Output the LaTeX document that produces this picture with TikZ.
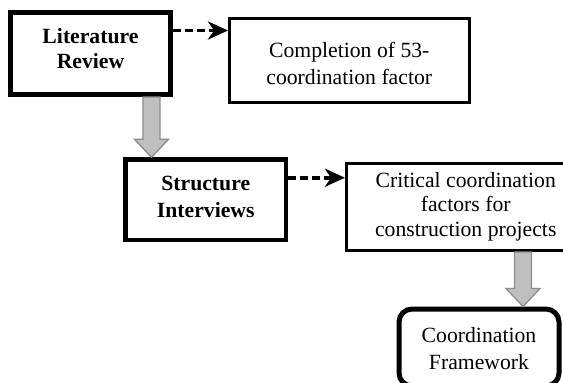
\documentclass[tikz,border=0pt]{standalone}
\usepackage{fontspec}
\setmainfont{Liberation Serif}
\usetikzlibrary{calc,arrows.meta}
\begin{document}
\begin{tikzpicture}[x=1pt,y=-1pt,
  box/.style={draw=black,rectangle,inner sep=0pt},
  thickbox/.style={box,line width=5pt},
  thinbox/.style={box,line width=3pt},
  lbl/.style={inner sep=0pt,align=center,font=\fontsize{21.7}{#1}\selectfont},
  lbl/.default=25.5pt,
  dasharrow/.style={line width=3.5pt,dash pattern=on 8pt off 4pt,-{Stealth[length=20pt,width=18pt,inset=6pt]}},
  garrow/.style={fill=black!25,draw=black!45,line width=1.3pt,line join=miter}
]
\useasboundingbox[fill=white] (0,0) rectangle (563,383);
\node[thickbox,minimum width=160pt,minimum height=82pt] (lit) at (90.5,53.5) {};
\node[lbl] (litT) at (90.5,48.5) {\bfseries Literature\\\bfseries Review};
\node[thinbox,minimum width=239.5pt,minimum height=84pt] (comp) at (349.25,60) {};
\node[lbl=26.5pt] (compT) at (349.25,63.5) {Completion of 53-\\coordination factor};
\node[thickbox,line width=4.5pt,minimum width=160.5pt,minimum height=80.5pt] (struct) at (205.75,199.75) {};
\node[lbl=26.5pt] (structT) at (205.75,196.75) {\bfseries Structure\\\bfseries Interviews};
\node[thinbox,minimum width=238.5pt,minimum height=87.5pt] (crit) at (465.75,206.75) {};
\node[lbl=24.5pt] (critT) at (465.75,206.75) {Critical coordination\\factors for\\construction projects};
\node[thickbox,rounded corners=13pt,minimum width=160pt,minimum height=77pt] (frame) at (479,347.5) {};
\node[lbl=27pt] (frameT) at (479,348.5) {Coordination\\Framework};
% dashed arrows
\coordinate (d1) at ([yshift=-20.5pt]lit.north east);
\draw[dasharrow] (d1) -- (d1 -| comp.west);
\coordinate (d2) at ([yshift=-20.5pt]struct.north east);
\draw[dasharrow] (d2) -- (d2 -| crit.west);
% gray block arrows
\coordinate (g1s) at (lit.south -| 151.5,0);
\coordinate (g1e) at (struct.north -| 151.5,0);
\draw[garrow] ($(g1s)+(-8.5,0)$) -- ($(g1e)+(-8.5,-18)$) -- ($(g1e)+(-17,-18)$) -- (g1e) -- ($(g1e)+(17,-18)$) -- ($(g1e)+(8.5,-18)$) -- ($(g1s)+(8.5,0)$) -- cycle;
\coordinate (g2s) at (crit.south -| 523,0);
\coordinate (g2e) at (frame.north -| 523,0);
\draw[garrow] ($(g2s)+(-8.5,0)$) -- ($(g2e)+(-8.5,-18)$) -- ($(g2e)+(-17,-18)$) -- (g2e) -- ($(g2e)+(17,-18)$) -- ($(g2e)+(8.5,-18)$) -- ($(g2s)+(8.5,0)$) -- cycle;
\end{tikzpicture}
\end{document}
